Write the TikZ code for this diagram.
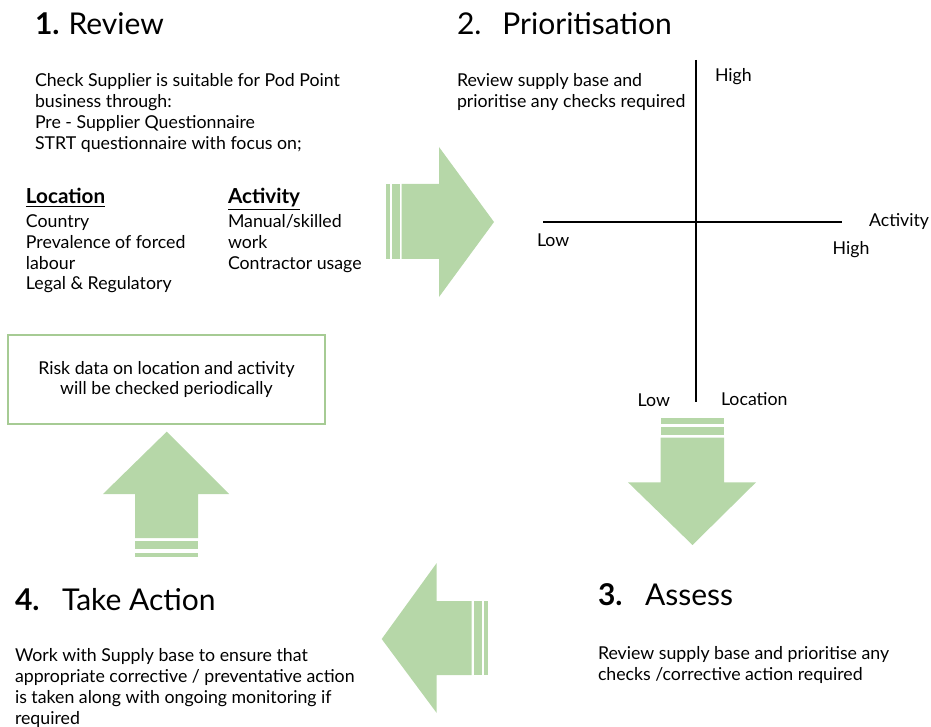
\documentclass[tikz,border=0pt]{standalone}
\usepackage{fontspec}
\setmainfont{Lato}
\usetikzlibrary{positioning}
\definecolor{arrowgreen}{HTML}{B6D7A8}
\definecolor{boxgreen}{HTML}{A6CB94}
% base of a multi-line node is its last line
\tikzset{every node/.style={inner sep=0pt, outer sep=0pt, text=black},
  heading/.style={anchor=base west, font=\fontsize{22.5}{26}\selectfont},
  subheading/.style={anchor=base west, font=\fontsize{15.5}{18}\selectfont\bfseries},
  bodytext/.style={anchor=base west, align=left, font=\fontsize{13.3}{15.75}\selectfont},
  axislabel/.style={anchor=base west, font=\fontsize{13.3}{15.75}\selectfont}}

\begin{document}
\begin{tikzpicture}[x=0.75pt,y=-0.75pt]
   \useasboundingbox (0,0) rectangle (931,727);

   % 1. Review
   \node[heading] (review) at (35,35) {\textbf{1.}\hspace{0.3em}Review};
   \node[bodytext] (reviewtext) at (35,150) {Check Supplier is suitable for Pod Point\\
     business through:\\ Pre - Supplier Questionnaire\\ STRT questionnaire with focus on;};
   \node[subheading] (lochead) at (26,204) {\underline{Location}};
   \node[bodytext] (loclist) at (26,290) {Country\\ Prevalence of forced\\ labour\\ Legal \& Regulatory};
   \node[subheading] (acthead) at (228,204) {\underline{Activity}};
   \node[bodytext] (actlist) at (228,269) {Manual/skilled\\ work\\ Contractor usage};

   % 2. Prioritisation
   \node[heading] (prior) at (457,35) {2.\hspace{0.7em}Prioritisation};
   \node[bodytext] (priortext) at (457,107.5) {Review supply base and\\ prioritise any checks required};
   \coordinate (vtop) at (695.7,60);
   \coordinate (vbot) at (695.7,401.7);
   \coordinate (hleft) at (543.3,222.3);
   \coordinate (hright) at (841.7,222.3);
   \draw[line width=1.2pt] (vtop) -- (vbot);
   \draw[line width=1.2pt] (hleft) -- (hright);
   \node[axislabel] (lochigh) at (715,81.7) {High};
   \node[axislabel] (actname) at (869,226.7) {Activity};
   \node[axislabel] (acthigh) at (832.7,255) {High};
   \node[axislabel] (actlow) at (537,247) {Low};
   \node[axislabel] (loclow) at (637.7,406.7) {Low};
   \node[axislabel] (locname) at (721,405) {Location};

   % 3. Assess
   \node[heading] (assess) at (598,605) {\textbf{3.}\hspace{0.75em}Assess};
   \node[bodytext] (assesstext) at (598,680.5) {Review supply base and prioritise any\\
     checks /corrective action required};

   % 4. Take Action
   \node[heading] (action) at (15,610) {\textbf{4.}\hspace{0.75em}Take Action};
   \node[bodytext] (actiontext) at (15,724) {Work with Supply base to ensure that\\
     appropriate corrective / preventative action\\ is taken along with ongoing monitoring if\\ required};

   % periodic check box
   \node[draw=boxgreen, line width=1.5pt, minimum width=237.75pt, minimum height=66.3pt,
     align=center, font=\fontsize{13.3}{14.5}\selectfont] (riskbox) at (166.5,379.5)
     {Risk data on location and activity\\ will be checked periodically};

   % right arrow
   \fill[arrowgreen] (385.7,184) rectangle (390,259);
   \fill[arrowgreen] (391.7,184) rectangle (400,259);
   \fill[arrowgreen] (401.7,184) -- (439,184) -- (439,147) -- (494,222) -- (439,297)
     -- (439,259) -- (401.7,259) -- cycle;

   % down arrow
   \fill[arrowgreen] (660.7,418) rectangle (724,424);
   \fill[arrowgreen] (660.7,427) rectangle (724,435);
   \fill[arrowgreen] (660.7,437.7) -- (724,437.7) -- (724,482.3) -- (756,482.3)
     -- (692.5,545) -- (628,482.3) -- (660.7,482.3) -- cycle;

   % left arrow
   \fill[arrowgreen] (484.3,601) rectangle (488.3,675);
   \fill[arrowgreen] (474,601) rectangle (482.3,675);
   \fill[arrowgreen] (471.7,601) -- (436.7,601) -- (436.7,563) -- (381.7,639)
     -- (436.7,713) -- (436.7,675) -- (471.7,675) -- cycle;

   % up arrow
   \fill[arrowgreen] (135,552.7) rectangle (198,557.3);
   \fill[arrowgreen] (135,540.7) rectangle (198,549.3);
   \fill[arrowgreen] (135,538) -- (135,494) -- (103,494) -- (166.7,431.7) -- (229,494)
     -- (198,494) -- (198,538) -- cycle;
\end{tikzpicture}
\end{document}
